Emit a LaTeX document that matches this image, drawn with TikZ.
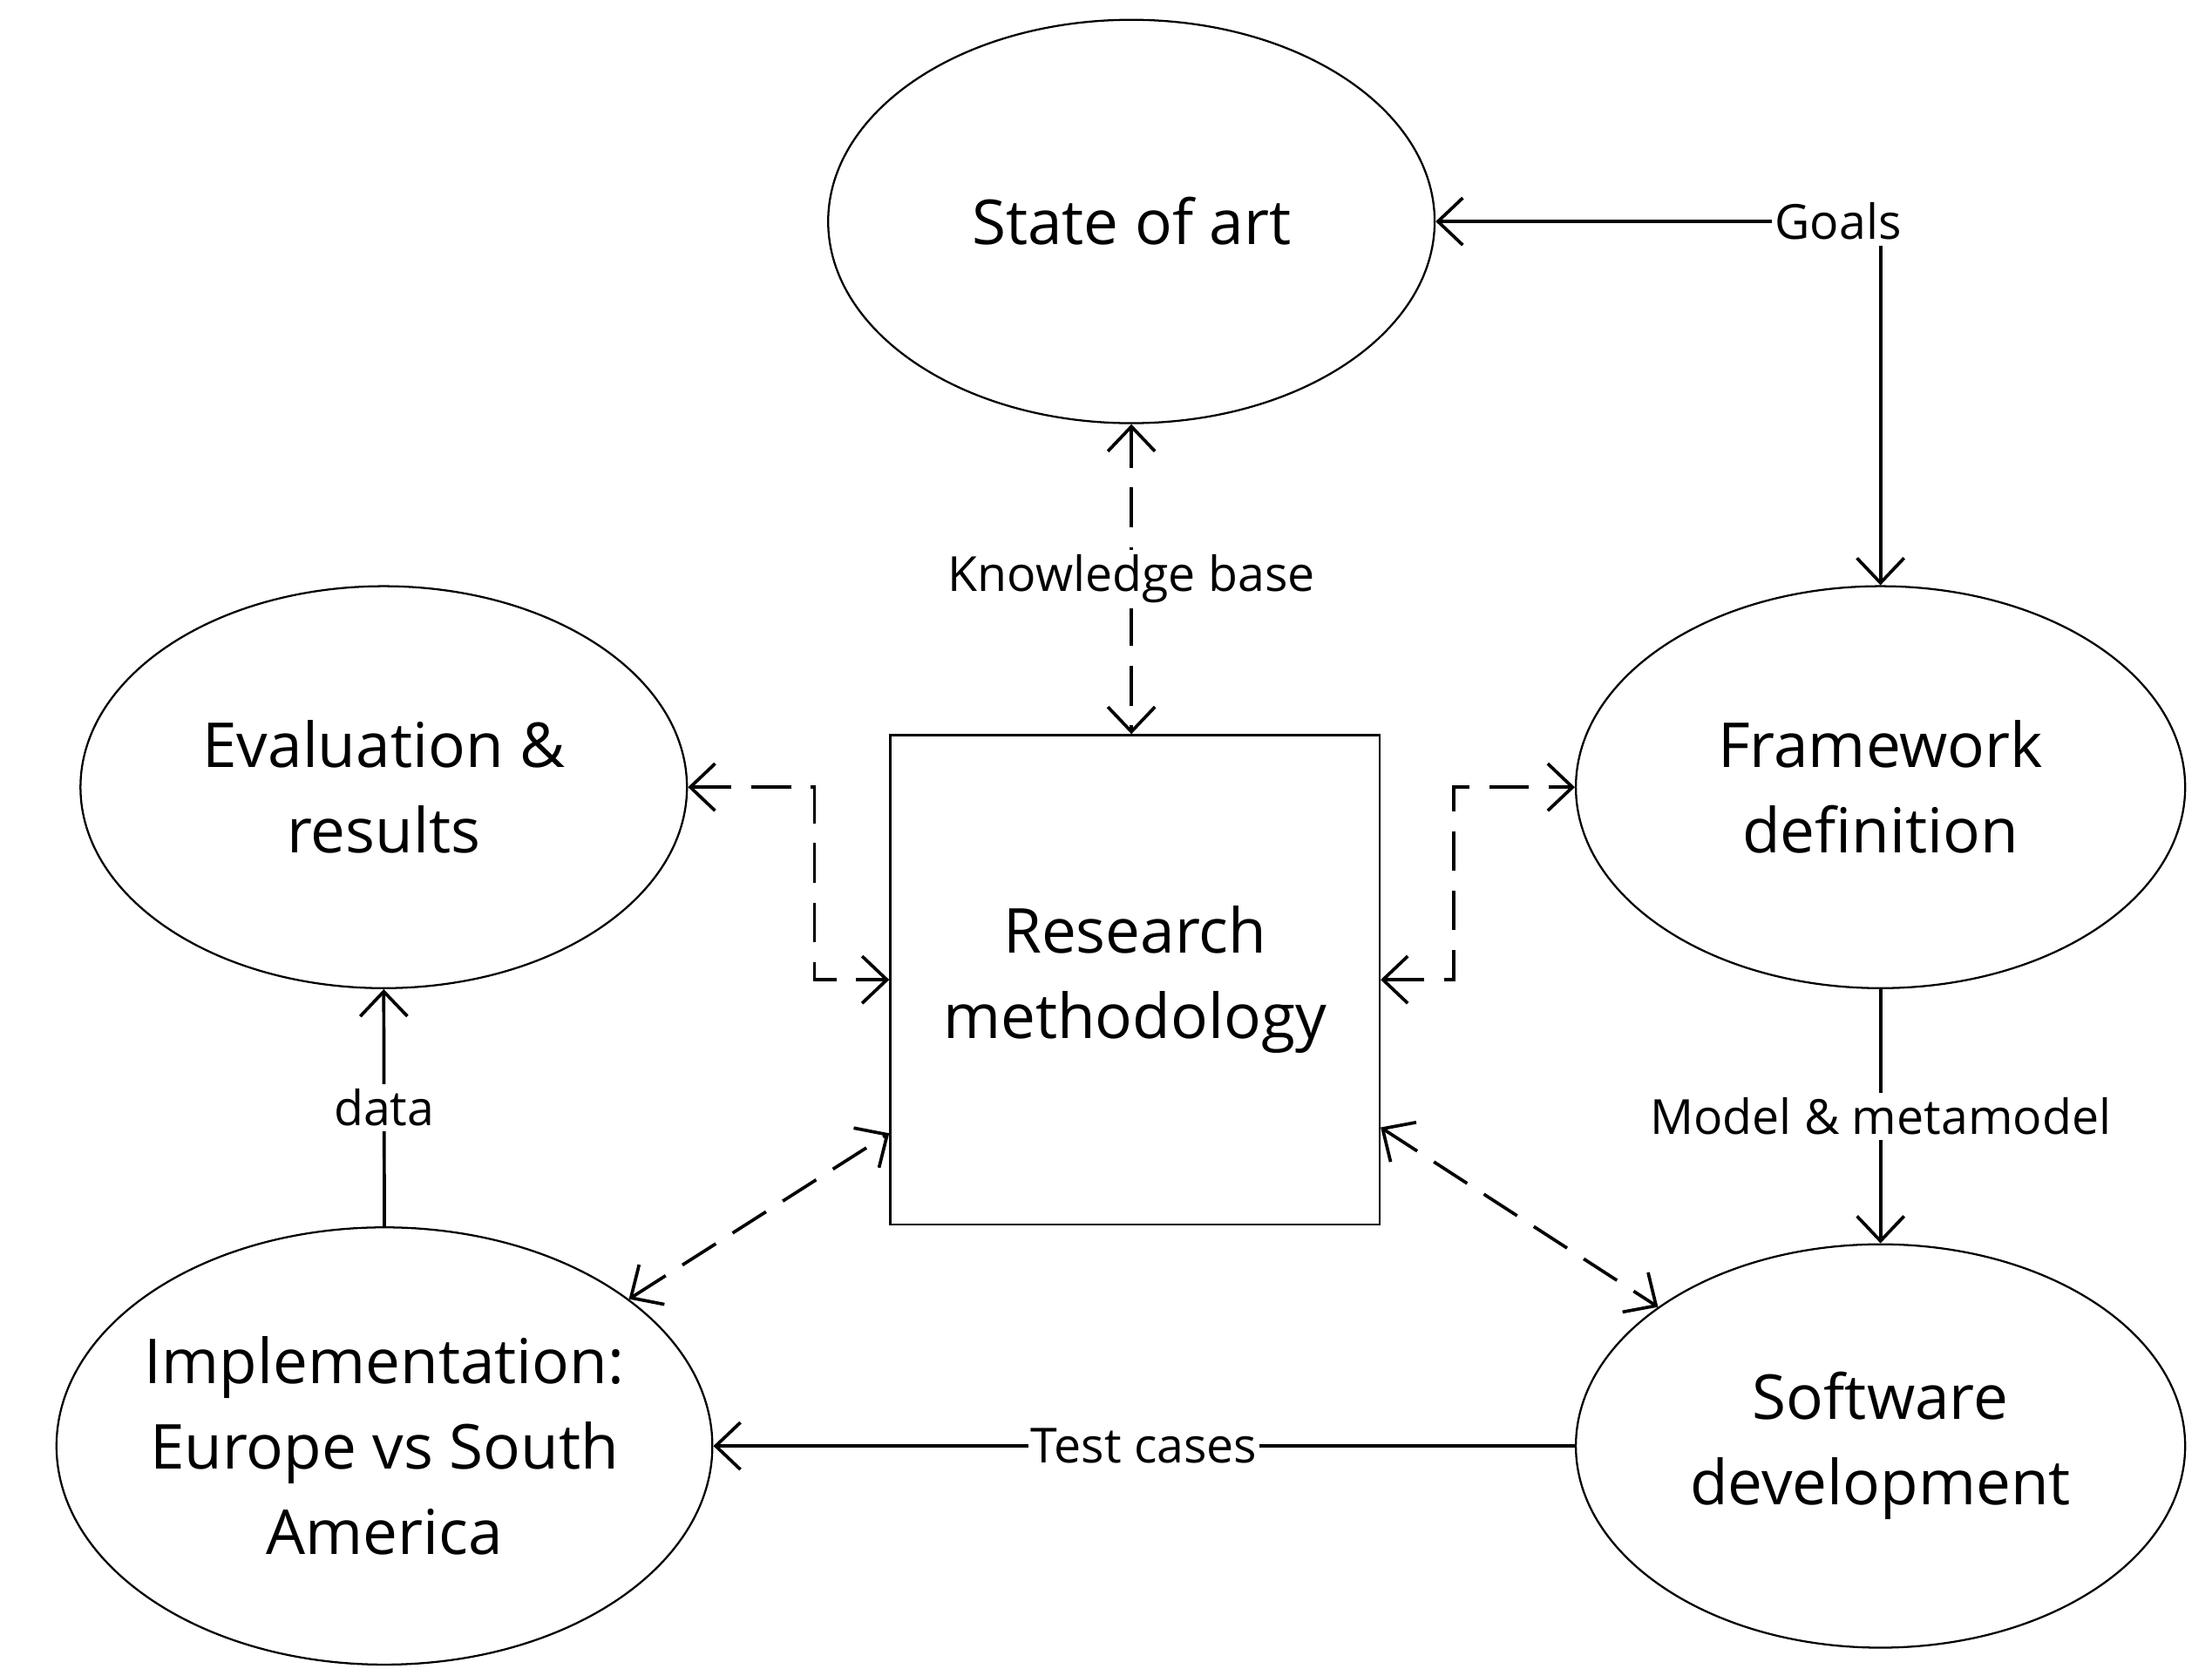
\documentclass[tikz,border=0pt]{standalone}
\usepackage{fontspec}
\setmainfont{Open Sans}
\usetikzlibrary{shapes.geometric,arrows.meta,calc}
\begin{document}
\begin{tikzpicture}[x=0.02cm,y=-0.02cm,
  mainfont/.style={font=\fontsize{25}{34.5}\selectfont},
  ell/.style={draw,ellipse,line width=0.8pt,inner sep=-6pt,align=center,mainfont},
  conn/.style={line width=1.3pt,-{Straight Barb[length=10pt,width=19pt]}},
  dconn/.style={line width=1.3pt,dash pattern=on 16pt off 8pt,
    {Straight Barb[length=10pt,width=19pt]}-{Straight Barb[length=10pt,width=19pt]}},
  lbl/.style={fill=white,inner xsep=1pt,inner ysep=2pt,font=\fontsize{19.5}{24}\selectfont}]
\useasboundingbox (0,0) rectangle (1568,1183);
\fill[white] (0,0) rectangle (1568,1183);

\node[ell,minimum width=8.6cm,minimum height=5.72cm] (sa) at (802,157) {State of art};
\node[ell,minimum width=8.6cm,minimum height=5.7cm] (ev) at (272,558) {Evaluation \&\\results};
\node[ell,minimum width=8.64cm,minimum height=5.7cm] (fw) at (1333,558) {Framework\\definition};
\node[ell,minimum width=9.3cm,minimum height=6.2cm] (im) at (272.5,1025) {Implementation:\\Europe vs South\\America};
\node[ell,minimum width=8.64cm,minimum height=5.72cm] (sw) at (1333,1025) {Software\\development};
\node[draw,line width=0.8pt,minimum size=6.94cm,inner sep=0pt,align=center,mainfont] (rm) at (804.5,694.5) {Research\\methodology};

\node[lbl] (goals) at (1303,157) {Goals};
\draw[conn] (goals.west) -- (sa.east);
\draw[conn] (goals.south -| fw.north) -- (fw.north);

\draw[dconn] (sa.south) -- node[lbl]{Knowledge base} (sa.south |- rm.north);
\draw[dconn] (ev.east) -| ($(rm.west)+(-53,0)$) -- (rm.west);
\draw[dconn] (rm.east) -- ($(rm.east)+(52,0)$) |- (fw.west);
\draw[dconn] (im.31) -- (rm.212);
\draw[dconn] (rm.-31) -- (sw.148);

\draw[conn] (im.north) -- node[lbl]{data} (ev.south);
\draw[conn] (fw.south) -- node[lbl]{Model \& metamodel} (sw.north);
\draw[conn] (sw.west) -- node[lbl]{Test cases} (im.east);
\end{tikzpicture}
\end{document}
